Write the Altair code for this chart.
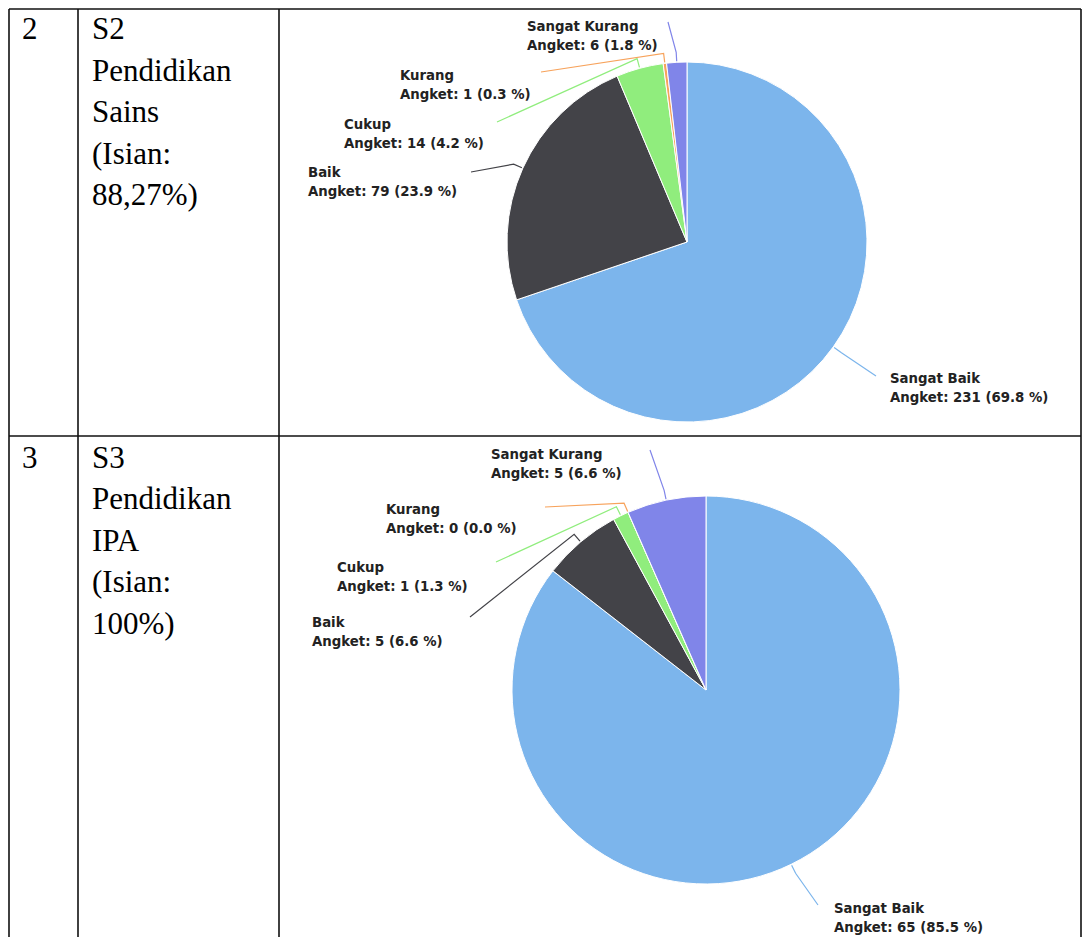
import math
import altair as alt
import pandas as pd

# ---------------- data ----------------
categories = ["Sangat Baik", "Baik", "Cukup", "Kurang", "Sangat Kurang"]
colors = ["#7cb5ec", "#434348", "#90ed7d", "#f7a35c", "#8085e9"]
s2_counts = [231, 79, 14, 1, 6]
s3_counts = [65, 5, 1, 0, 5]

row_numbers = ["2", "3"]
row_texts = [
    ["S2", "Pendidikan", "Sains", "(Isian:", "88,27%)"],
    ["S3", "Pendidikan", "IPA", "(Isian:", "100%)"],
]

# ---------------- layout (page pixel coordinates) ----------------
W, H = 1074, 929
OFF = 8
xs = alt.Scale(domain=[OFF, OFF + W], nice=False, zero=False)
ys = alt.Scale(domain=[OFF, OFF + H], nice=False, zero=False, reverse=True)

table_vlines = [9, 78, 279, 1081]
table_hlines = [9, 436]
table_bottom = 960
row_base_y = [39, 467.5]
line_step = 41.5
num_x, text_x = 22, 92

pies = [
    dict(counts=s2_counts, cx=687, cy=242, r=180,
         label_pos=[(890, 379), (308, 173), (344, 125), (400, 76), (527, 27)],
         conn_end=[(876, 376), (471, 172), (497, 122), (541, 72), (668, 22)]),
    dict(counts=s3_counts, cx=706, cy=690, r=194,
         label_pos=[(834, 909), (312, 623), (337, 568), (386, 510), (491, 455)],
         conn_end=[(818, 905), (470, 617), (496, 562), (545, 507), (650, 450)]),
]
label_line_gap = 18.5

color_scale = alt.Scale(domain=categories, range=colors)

layers = []

# table rules
rules = []
for x in table_vlines:
    rules.append(dict(x=x, x2=x, y=table_hlines[0], y2=table_bottom))
for y in table_hlines:
    rules.append(dict(x=table_vlines[0], x2=table_vlines[-1], y=y, y2=y))
rules_df = pd.DataFrame(rules)
layers.append(
    alt.Chart(rules_df).mark_rule(stroke="#111111", strokeWidth=1.6).encode(
        x=alt.X("x:Q", scale=xs, axis=None),
        x2="x2:Q",
        y=alt.Y("y:Q", scale=ys, axis=None),
        y2="y2:Q",
    )
)

# table text
ttxt = []
for i, num in enumerate(row_numbers):
    ttxt.append(dict(x=num_x, y=row_base_y[i], t=num))
    for j, line in enumerate(row_texts[i]):
        ttxt.append(dict(x=text_x, y=row_base_y[i] + j * line_step, t=line))
ttxt_df = pd.DataFrame(ttxt)
layers.append(
    alt.Chart(ttxt_df).mark_text(
        font="Liberation Serif", fontSize=31, align="left", baseline="alphabetic", color="#000000"
    ).encode(
        x=alt.X("x:Q", scale=xs, axis=None),
        y=alt.Y("y:Q", scale=ys, axis=None),
        text="t:N",
    )
)

# pies, connectors and labels
for p_i, p in enumerate(pies):
    counts = p["counts"]
    total = sum(counts)
    pie_df = pd.DataFrame({"cat": categories, "v": counts, "idx": list(range(len(categories)))})
    layers.append(
        alt.Chart(pie_df).mark_arc(outerRadius=p["r"], stroke="white", strokeWidth=1).encode(
            theta=alt.Theta("v:Q", stack="normalize"),
            order=alt.Order("idx:Q", sort="ascending"),
            color=alt.Color("cat:N", scale=color_scale, legend=None),
            x=alt.XDatum(p["cx"], scale=xs, axis=None),
            y=alt.YDatum(p["cy"], scale=ys, axis=None),
        )
    )
    conn = []
    lab = []
    cum = 0
    for k, (cat, v) in enumerate(zip(categories, counts)):
        mid = (cum + v / 2) / total * 2 * math.pi
        cum += v
        ex, ey = p["conn_end"][k]
        bx = p["cx"] + (p["r"] + 10) * math.sin(mid)
        by = p["cy"] - (p["r"] + 10) * math.cos(mid)
        sx = p["cx"] + (p["r"] + 1) * math.sin(mid)
        sy = p["cy"] - (p["r"] + 1) * math.cos(mid)
        cid = f"{p_i}-{k}"
        conn += [
            dict(cid=cid, cat=cat, o=0, x=ex, y=ey),
            dict(cid=cid, cat=cat, o=1, x=bx, y=by),
            dict(cid=cid, cat=cat, o=2, x=sx, y=sy),
        ]
        lx, ly = p["label_pos"][k]
        lab.append(dict(x=lx, y=ly, t=cat))
        lab.append(dict(x=lx, y=ly + label_line_gap, t=f"Angket: {v} ({v / total * 100:.1f} %)"))
    conn_df = pd.DataFrame(conn)
    layers.append(
        alt.Chart(conn_df).mark_line(strokeWidth=1.2).encode(
            x=alt.X("x:Q", scale=xs, axis=None),
            y=alt.Y("y:Q", scale=ys, axis=None),
            color=alt.Color("cat:N", scale=color_scale, legend=None),
            detail="cid:N",
            order="o:Q",
        )
    )
    lab_df = pd.DataFrame(lab)
    layers.append(
        alt.Chart(lab_df).mark_text(
            font="DejaVu Sans", fontSize=13.3, fontWeight="bold", align="left",
            baseline="middle", color="#222222"
        ).encode(
            x=alt.X("x:Q", scale=xs, axis=None),
            y=alt.Y("y:Q", scale=ys, axis=None),
            text="t:N",
        )
    )

chart = alt.layer(*layers).properties(
    width=W, height=H, padding=0, autosize=alt.AutoSizeParams(type="none")
).configure_view(stroke=None)

chart.save("out.html", embed_options={"renderer": "svg", "actions": False})
